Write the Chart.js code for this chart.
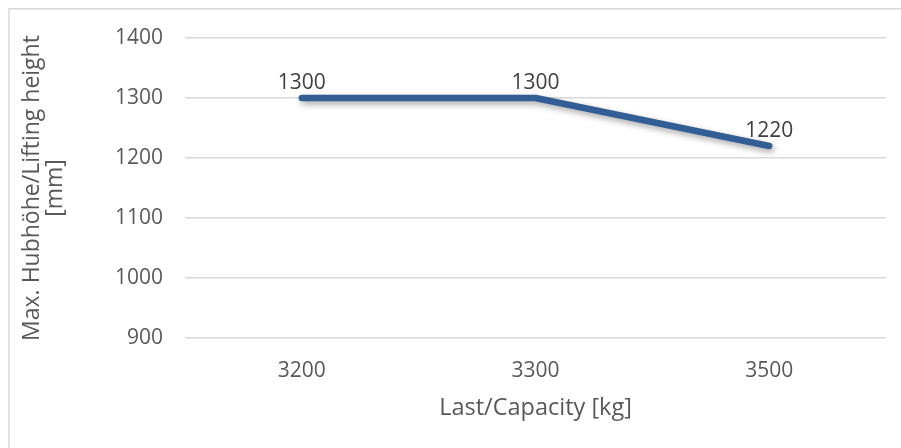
<!DOCTYPE html>
<html><head><meta charset="utf-8">
<script src="https://cdn.jsdelivr.net/npm/chart.js@4.4.0/dist/chart.umd.min.js"></script>
<style>html,body{margin:0;padding:0;background:#fff;overflow:hidden}</style>
</head><body>
<canvas id="c" width="901" height="448"></canvas>
<script>
const categories = ['3200', '3300', '3500'];
const liftHeights = [1300, 1300, 1220];
const yMin = 900;
const yMax = 1400;
const yStep = 100;
const xTitle = 'Last/Capacity [kg]';
const yTitle = ['Max. Hubhöhe/Lifting height', '[mm]'];

const FONT = "'Open Sans', 'Liberation Sans', sans-serif";
const TEXT = '#595959';
const LINE = '#335E95';

const frame = {
  id: 'frame',
  beforeDraw(chart) {
    const ctx = chart.ctx;
    ctx.save();
    ctx.fillStyle = '#fff';
    ctx.fillRect(0, 0, chart.width, chart.height);
    ctx.strokeStyle = '#d9d9d9';
    ctx.lineWidth = 1.5;
    ctx.beginPath();
    ctx.moveTo(9, chart.height + 2);
    ctx.lineTo(9, 8.75);
    ctx.lineTo(chart.width + 2, 8.75);
    ctx.stroke();
    ctx.restore();
  }
};

const shadow = {
  id: 'shadow',
  beforeDatasetDraw(chart) {
    const ctx = chart.ctx;
    ctx.save();
    ctx.shadowColor = 'rgba(0,0,0,0.35)';
    ctx.shadowBlur = 6;
    ctx.shadowOffsetX = 2;
    ctx.shadowOffsetY = 3;
  },
  afterDatasetDraw(chart) {
    chart.ctx.restore();
  }
};

const labels = {
  id: 'valueLabels',
  afterDatasetsDraw(chart) {
    const ctx = chart.ctx;
    const meta = chart.getDatasetMeta(0);
    ctx.save();
    ctx.font = '21px ' + FONT;
    ctx.fillStyle = '#404040';
    ctx.textAlign = 'center';
    ctx.textBaseline = 'middle';
    meta.data.forEach((el, i) => {
      ctx.fillText(String(liftHeights[i]), el.x, el.y - 15);
    });
    ctx.restore();
  }
};

new Chart(document.getElementById('c'), {
  type: 'line',
  data: {
    labels: categories,
    datasets: [{
      data: liftHeights,
      borderColor: LINE,
      borderWidth: 6.5,
      borderCapStyle: 'round',
      borderJoinStyle: 'round',
      pointRadius: 0,
      pointHoverRadius: 0,
      tension: 0,
      fill: false
    }]
  },
  options: {
    responsive: false,
    animation: false,
    events: [],
    layout: { padding: { top: 38, right: 15, bottom: 0, left: 0 } },
    plugins: { legend: { display: false }, tooltip: { enabled: false } },
    scales: {
      x: {
        offset: true,
        grid: { display: false },
        border: { display: false },
        ticks: { color: TEXT, font: { family: FONT, size: 21 }, padding: 12, maxRotation: 0 },
        title: { display: true, text: xTitle, color: TEXT, font: { family: FONT, size: 23.5, lineHeight: 1.15 }, padding: { top: 0, bottom: 26 } },
        afterFit(scale) { scale.height = 110; }
      },
      y: {
        min: yMin,
        max: yMax,
        grid: { color: '#d9d9d9', lineWidth: 1.5, drawTicks: false },
        border: { display: false },
        ticks: { stepSize: yStep, color: TEXT, font: { family: FONT, size: 21 }, padding: 22, callback: (v) => String(v) },
        title: { display: true, text: yTitle, color: TEXT, font: { family: FONT, size: 23, lineHeight: 1.0 }, padding: { top: 20.5, bottom: 0 } },
        afterFit(scale) { scale.width = 185; }
      }
    }
  },
  plugins: [frame, shadow, labels]
});
</script>
</body></html>
